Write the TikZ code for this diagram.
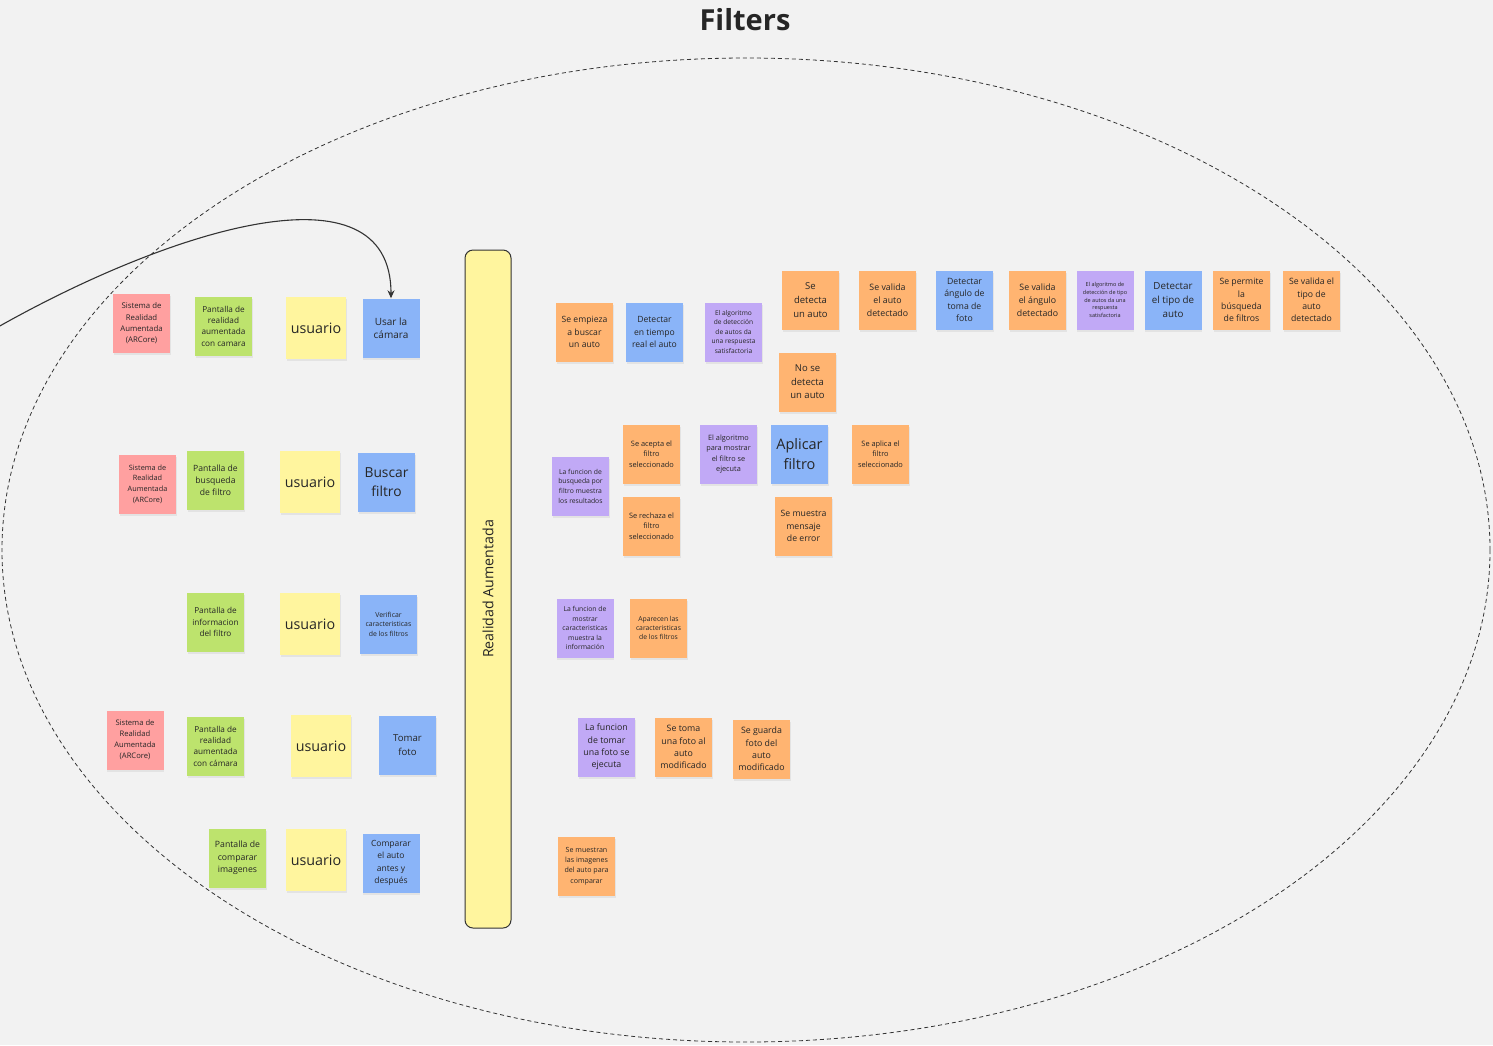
\documentclass[tikz,border=0pt]{standalone}
\usepackage{fontspec}
\setmainfont{Open Sans}
\usetikzlibrary{shadows,arrows.meta}
\definecolor{bgc}{HTML}{F2F2F2}
\definecolor{cRed}{HTML}{FFA0A0}
\definecolor{cGreen}{HTML}{BDE36D}
\definecolor{cYel}{HTML}{FFF59E}
\definecolor{cBlue}{HTML}{8AB4F8}
\definecolor{cOr}{HTML}{FFB471}
\definecolor{cPur}{HTML}{C1A9F6}
\definecolor{txt}{HTML}{262626}
\definecolor{lin}{HTML}{333333}
\newcommand\fs[2]{\fontsize{#1pt}{#2pt}\selectfont}
\tikzset{
  sticky/.style={minimum width=57pt, minimum height=59pt, inner sep=1pt, align=center, text=txt,
    drop shadow={shadow xshift=0.5pt, shadow yshift=-2pt, opacity=0.13}},
  user/.style={sticky, fill=cYel, minimum width=60pt, minimum height=62pt, font=\fs{14.3}{18}},
  arc/.style={sticky, fill=cRed, font=\fs{7.8}{11.3}},
  scr/.style={sticky, fill=cGreen},
  act/.style={sticky, fill=cBlue},
  res/.style={sticky, fill=cOr},
  alg/.style={sticky, fill=cPur},
}
\begin{document}
\begin{tikzpicture}[x=1pt,y=-1pt]
\fill[bgc] (0,0) rectangle (1493,1045);
\useasboundingbox (0,0) rectangle (1493,1045);
\node[font=\fs{29}{34}\bfseries, text=txt] (title) at (745,20) {Filters};
\draw[lin, line width=0.8pt, dash pattern=on 4pt off 3pt] (746,550) ellipse [x radius=744, y radius=492];

% bar
\node[draw=lin, line width=1pt, fill=cYel, rounded corners=8pt, minimum width=46pt, minimum height=678pt, inner sep=0pt] (bar) at (488,589) {};
\node[rotate=90, font=\fs{14.2}{16}, text=txt] (bartext) at (488,589) {Realidad Aumentada};

% row 1
\node[arc] (r1a) at (141.5,323.5) {Sistema de\\Realidad\\Aumentada\\(ARCore)};
\node[scr, font=\fs{8.2}{11.3}] (r1b) at (223.5,326) {Pantalla de\\realidad\\aumentada\\con camara};
\node[user] (r1c) at (316,328) {usuario};
\node[act, font=\fs{10}{13}] (usar) at (391,328) {Usar la\\cámara};

% row 2
\node[arc, font=\fs{7.3}{10.6}] (r2a) at (147.5,484) {Sistema de\\Realidad\\Aumentada\\(ARCore)};
\node[scr, font=\fs{8.6}{12}] (r2b) at (215.5,480) {Pantalla de\\busqueda\\de filtro};
\node[user] (r2c) at (310,482) {usuario};
\node[act, font=\fs{13.8}{19}] (r2d) at (386.5,482) {Buscar\\filtro};

% row 3
\node[scr, font=\fs{8.2}{11.5}] (r3b) at (215.5,622) {Pantalla de\\informacion\\del filtro};
\node[user] (r3c) at (310,624) {usuario};
\node[act, font=\fs{6.9}{9.6}] (r3d) at (388.5,624) {Verificar\\caracteristicas\\de los filtros};

% row 4
\node[arc, font=\fs{7.6}{10.9}] (r4a) at (135,740) {Sistema de\\Realidad\\Aumentada\\(ARCore)};
\node[scr, font=\fs{8.2}{11.3}] (r4b) at (215.5,746) {Pantalla de\\realidad\\aumentada\\con cámara};
\node[user] (r4c) at (321,746) {usuario};
\node[act, font=\fs{9.6}{14}] (r4d) at (407.5,745) {Tomar\\foto};

% row 5
\node[scr, font=\fs{8.7}{12.5}] (r5b) at (237.5,858) {Pantalla de\\comparar\\imagenes};
\node[user] (r5c) at (316,860) {usuario};
\node[act, font=\fs{8.5}{12.3}] (r5d) at (391,863) {Comparar\\el auto\\antes y\\después};

% right, top
\node[res, font=\fs{8.6}{12.5}] (e1) at (584.5,332) {Se empieza\\a buscar\\un auto};
\node[act, font=\fs{8.6}{12.5}] (e2) at (654.5,332) {Detectar\\en tiempo\\real el auto};
\node[alg, font=\fs{6.6}{9.5}] (e3) at (733.5,332) {El algoritmo\\de detección\\de autos da\\una respuesta\\satisfactoria};
\node[res, font=\fs{9.5}{14}] (e4) at (810.5,300) {Se\\detecta\\un auto};
\node[res, font=\fs{9.5}{13.5}] (e5) at (807.5,382) {No se\\detecta\\un auto};
\node[res, font=\fs{8.8}{13}] (e6) at (887.5,300) {Se valida\\el auto\\detectado};
\node[act, font=\fs{8.7}{12.4}] (e7) at (964.5,300) {Detectar\\ángulo de\\toma de\\foto};
\node[res, font=\fs{8.8}{13}] (e8) at (1037.5,300) {Se valida\\el ángulo\\detectado};
\node[alg, font=\fs{5.5}{7.7}] (e9) at (1105,300) {El algoritmo de\\detección de tipo\\de autos da una\\respuesta\\satisfactoria};
\node[act, font=\fs{9.8}{14}] (e10) at (1173,300) {Detectar\\el tipo de\\auto};
\node[res, font=\fs{8.7}{12.3}] (e11) at (1241.5,300) {Se permite\\la\\búsqueda\\de filtros};
\node[res, font=\fs{8.7}{12.3}] (e12) at (1311.5,300) {Se valida el\\tipo de\\auto\\detectado};

% middle
\node[alg, font=\fs{6.8}{9.7}] (f1) at (580.5,486) {La funcion de\\busqueda por\\filtro muestra\\los resultados};
\node[res, font=\fs{7.4}{10.5}] (f2) at (651.5,454) {Se acepta el\\filtro\\seleccionado};
\node[res, font=\fs{7.4}{10.5}] (f3) at (651.5,526) {Se rechaza el\\filtro\\seleccionado};
\node[alg, font=\fs{7.3}{10.3}] (f4) at (728.5,454) {El algoritmo\\para mostrar\\el filtro se\\ejecuta};
\node[act, font=\fs{14.5}{20}] (f5) at (799.5,454) {Aplicar\\filtro};
\node[res, font=\fs{7.4}{10.5}] (f6) at (880.5,454) {Se aplica el\\filtro\\seleccionado};
\node[res, font=\fs{8.7}{12.8}] (f7) at (803.5,526) {Se muestra\\mensaje\\de error};

% info
\node[alg, font=\fs{6.8}{9.5}] (g1) at (585,628) {La funcion de\\mostrar\\caracteristicas\\muestra la\\información};
\node[res, font=\fs{6.8}{9.3}] (g2) at (658.5,628) {Aparecen las\\caracteristicas\\de los filtros};

% photo
\node[alg, font=\fs{8.8}{12.3}] (h1) at (606.5,747) {La funcion\\de tomar\\una foto se\\ejecuta};
\node[res, font=\fs{8.8}{12.3}] (h2) at (683.5,747) {Se toma\\una foto al\\auto\\modificado};
\node[res, font=\fs{8.8}{12.3}] (h3) at (761.5,749) {Se guarda\\foto del\\auto\\modificado};

% compare
\node[res, font=\fs{7.1}{10.3}] (k1) at (586.5,866) {Se muestran\\las imagenes\\del auto para\\comparar};

% connector
\coordinate (cstart) at (-2,327);
\draw[lin, line width=1.1pt, -{Stealth[length=8pt,width=7pt]}] (cstart) .. controls (170,230) and (391,160) .. (usar.north);
\end{tikzpicture}
\end{document}
